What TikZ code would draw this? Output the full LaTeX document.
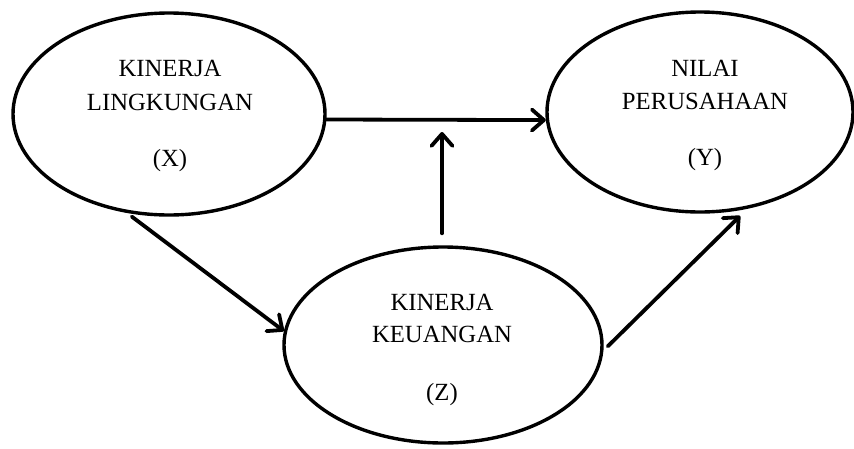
\documentclass[tikz,border=0pt]{standalone}
\usepackage{fontspec}
\setmainfont{Liberation Serif}
\usetikzlibrary{shapes.geometric,arrows.meta}
\tikzset{
  ovalnode/.style={ellipse, draw=black, line width=3.4pt, inner sep=0pt, fill=white},
  lbl/.style={anchor=base, inner sep=0pt, font=\fontsize{24.7}{30}\selectfont},
  conn/.style={line width=3.8pt, line cap=round,
    -{Straight Barb[length=12pt, width=21pt, line cap=round, line join=round]}}
}
\begin{document}
\begin{tikzpicture}[x=1pt,y=-1pt]
\useasboundingbox[fill=white] (0,0) rectangle (854,448);
% ellipses
\node[ovalnode, minimum width=312pt, minimum height=202pt] (L) at (169,114) {};
\node[ovalnode, minimum width=306pt, minimum height=200pt] (R) at (700,112) {};
\node[ovalnode, minimum width=318pt, minimum height=196pt] (B) at (443,345) {};
% labels
\node[lbl] (l1) at (170,76) {KINERJA};
\node[lbl] (l2) at (170,110) {LINGKUNGAN};
\node[lbl] (l3) at (170,166) {(X)};
\node[lbl] (r1) at (705,76) {NILAI};
\node[lbl] (r2) at (705,109) {PERUSAHAAN};
\node[lbl] (r3) at (705,165) {(Y)};
\node[lbl] (b1) at (442,310) {KINERJA};
\node[lbl] (b2) at (442,342) {KEUANGAN};
\node[lbl] (b3) at (442,400) {(Z)};
% connectors
\coordinate (m) at (442,132);
\draw[conn] (L.-2.9) -- (R.183.76);
\draw[conn, shorten <=12pt] (B.north -| m) -- (m);
\draw[conn, shorten <=6pt] (L.-113.4) -- (B.175.3);
\draw[conn, shorten <=6pt, shorten >=10pt] (B.-2.5) -- (R.-64.8);
\end{tikzpicture}
\end{document}
